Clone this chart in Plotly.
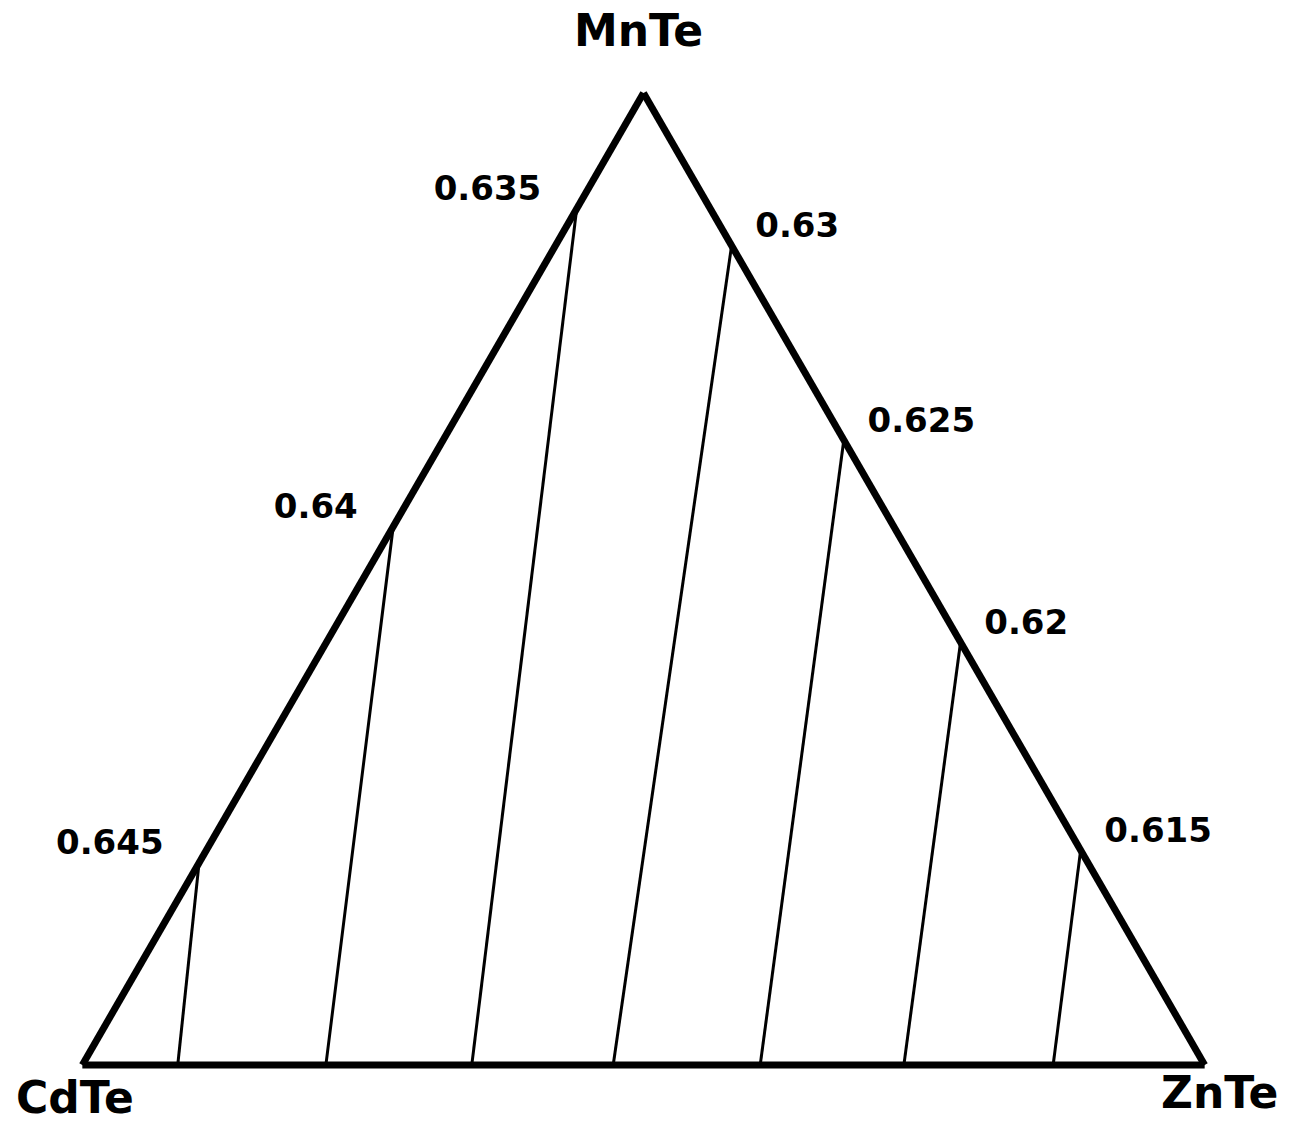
import plotly.graph_objects as go

# Iso-value lines across the CdTe-MnTe-ZnTe composition triangle
level_labels = ["0.645", "0.64", "0.635", "0.63", "0.625", "0.62", "0.615"]
# ZnTe fraction where each line meets the CdTe-ZnTe base
znte_on_base = [0.085, 0.217, 0.347, 0.473, 0.604, 0.732, 0.865]
# MnTe fraction where each line meets a side of the triangle
mnte_on_side = [0.208, 0.554, 0.881, 0.843, 0.643, 0.435, 0.221]
# Which side the upper end lies on (the other end-member of that side)
side_partner = ["CdTe", "CdTe", "CdTe", "ZnTe", "ZnTe", "ZnTe", "ZnTe"]

vertex_names = ["MnTe", "CdTe", "ZnTe"]

LABEL_FONT = dict(family="DejaVu Sans", size=34, color="black", weight="bold")
VERTEX_FONT = dict(family="DejaVu Sans", size=44, color="black", weight="bold")
NBSP = "\u00a0"

fig = go.Figure()

for label, z, m, partner in zip(level_labels, znte_on_base, mnte_on_side, side_partner):
    if partner == "CdTe":
        top_pt = dict(a=m, b=1 - m, c=0.0)
        pos = "top left"
        txt = label + NBSP * 3
    else:
        top_pt = dict(a=m, b=0.0, c=1 - m)
        pos = "top right"
        txt = NBSP * 2 + label
    base_pt = dict(a=0.0, b=1 - z, c=z)
    fig.add_trace(go.Scatterternary(
        a=[top_pt["a"], base_pt["a"]],
        b=[top_pt["b"], base_pt["b"]],
        c=[top_pt["c"], base_pt["c"]],
        mode="lines+text",
        text=[txt, ""],
        textposition=[pos, pos],
        textfont=LABEL_FONT,
        line=dict(color="black", width=3),
        hoverinfo="skip",
        showlegend=False,
        cliponaxis=False,
    ))

axis_style = dict(
    showgrid=False, showticklabels=False, ticks="", showline=True,
    linecolor="black", linewidth=7, min=0, title=dict(text=""),
)

fig.update_layout(
    width=1300, height=1129,
    margin=dict(l=0, r=0, t=0, b=0),
    paper_bgcolor="white",
    ternary=dict(
        sum=1,
        bgcolor="white",
        domain=dict(x=[0.02, 0.97], y=[0.0567, 0.9176]),
        aaxis=axis_style, baxis=axis_style, caxis=axis_style,
    ),
    showlegend=False,
)

# Vertex (end-member) names
vertex_pos = {"MnTe": (0.4908, 0.9734), "CdTe": (0.0577, 0.0283), "ZnTe": (0.9377, 0.0319)}
for name in vertex_names:
    x, y = vertex_pos[name]
    fig.add_annotation(x=x, y=y, xref="paper", yref="paper", text=name,
                       showarrow=False, font=VERTEX_FONT,
                       xanchor="center", yanchor="middle")

fig.write_html("out.html")
